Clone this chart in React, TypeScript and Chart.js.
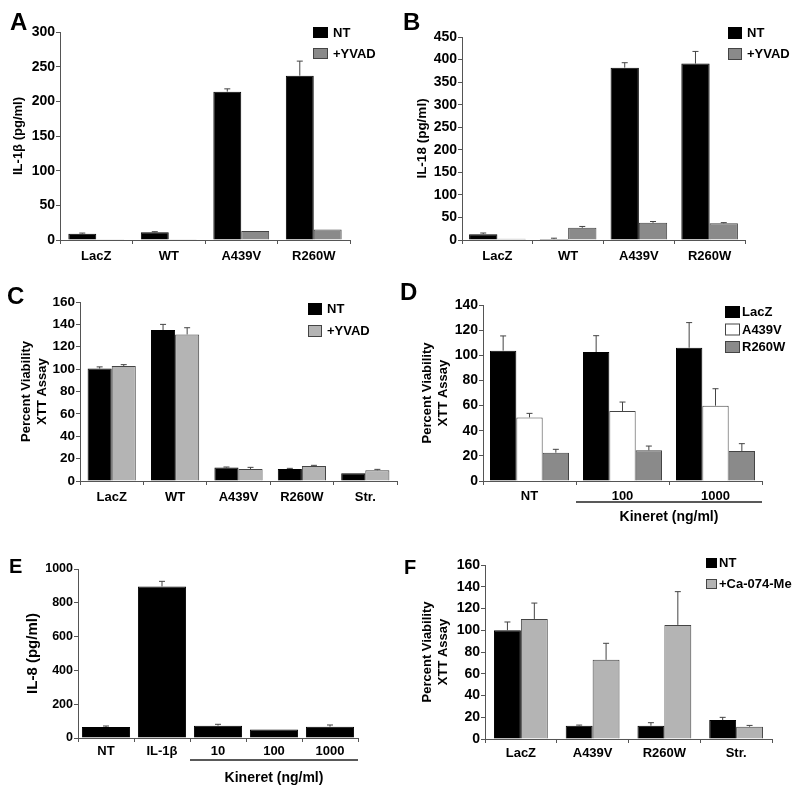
import React, { useEffect, useRef } from "react";
import { Chart, registerables } from "chart.js";

Chart.register(...registerables);

const FONT = "'Liberation Sans', Arial, Helvetica, sans-serif";
const BLACK = "#000000";
const GRAY_DARK = "#8a8a8a";
const GRAY_LIGHT = "#b4b4b4";
const WHITE = "#ffffff";
const EDGE = "#444444";
const AXIS = "#555555";

// ---------- Panel A : IL-1β ----------
const aCategories = ["LacZ", "WT", "A439V", "R260W"];
const aNT = [9, 11, 214, 237];
const aNTErr = [1, 1, 4, 21];
const aYVAD = [1, 0.5, 13, 15];
const aYVADErr = [0, 0, 0, 0];

// ---------- Panel B : IL-18 ----------
const bCategories = ["LacZ", "WT", "A439V", "R260W"];
const bNT = [13, 2, 382, 391];
const bNTErr = [2.5, 2, 11, 27];
const bYVAD = [3, 27, 38, 37];
const bYVADErr = [0, 3, 3, 1.5];

// ---------- Panel C : viability ± YVAD ----------
const cCategories = ["LacZ", "WT", "A439V", "R260W", "Str."];
const cNT = [100.5, 135, 12, 10.7, 6.9];
const cNTErr = [1.5, 5, 0.5, 0.6, 0];
const cYVAD = [102.7, 131, 10.7, 13.4, 9.6];
const cYVADErr = [1.3, 6, 1.5, 0.6, 0.8];

// ---------- Panel D : viability with Kineret ----------
const dCategories = ["NT", "100", "1000"];
const dLacZ = [103.7, 102.6, 106];
const dLacZErr = [11.7, 13, 20];
const dA439V = [50.6, 55.7, 59.9];
const dA439VErr = [3.2, 7.1, 13.5];
const dR260W = [22.5, 24.4, 23.9];
const dR260WErr = [2.7, 3.4, 5.8];

// ---------- Panel E : IL-8 ----------
const eCategories = ["NT", "IL-1β", "10", "100", "1000"];
const eValues = [65, 897, 73, 51, 67];
const eErr = [6, 30, 8, 0, 10];

// ---------- Panel F : viability ± Ca-074-Me ----------
const fCategories = ["LacZ", "A439V", "R260W", "Str."];
const fNT = [100, 12.2, 12.2, 17.4];
const fNTErr = [7.6, 0.6, 2.8, 2.5];
const fCa = [110.4, 72.8, 104.9, 11.3];
const fCaErr = [14.6, 15.2, 30.6, 1.2];

type Series = { label: string; data: number[]; err: number[]; color: string };
type LegendCfg = { x: number; y: number; w: number; h: number; pitch: number; textX: number; size: number };
type BracketCfg = { from: number; lineY: number; textY: number; label: string; size: number };
type PanelCfg = {
  letter: string;
  letterPos: [number, number, number];
  canvas: [number, number, number, number];
  area: [number, number, number, number];
  yLeft: number;
  yTitle: string | string[];
  yTitleSize: number;
  yTickSize: number;
  xTickSize: number;
  xPad: number;
  categories: string[];
  series: Series[];
  catPct: number;
  yMax: number;
  yStep: number;
  legend?: LegendCfg;
  bracket?: BracketCfg;
};

const panels: PanelCfg[] = [
  {
    letter: "A", letterPos: [10, 10, 24],
    canvas: [0, 0, 400, 268], area: [60, 32, 350, 240], yLeft: 11,
    yTitle: "IL-1β (pg/ml)", yTitleSize: 13, yTickSize: 14, xTickSize: 13, xPad: 5,
    categories: aCategories,
    series: [
      { label: "NT", data: aNT, err: aNTErr, color: BLACK },
      { label: "+YVAD", data: aYVAD, err: aYVADErr, color: GRAY_DARK },
    ],
    catPct: 0.77, yMax: 300, yStep: 50,
    legend: { x: 313, y: 27, w: 15, h: 11, pitch: 21, textX: 333, size: 13 },
  },
  {
    letter: "B", letterPos: [403, 10, 24],
    canvas: [400, 0, 400, 268], area: [462, 37, 745, 240], yLeft: 414,
    yTitle: "IL-18 (pg/ml)", yTitleSize: 13.5, yTickSize: 14, xTickSize: 13, xPad: 5,
    categories: bCategories,
    series: [
      { label: "NT", data: bNT, err: bNTErr, color: BLACK },
      { label: "+YVAD", data: bYVAD, err: bYVADErr, color: GRAY_DARK },
    ],
    catPct: 0.8, yMax: 450, yStep: 50,
    legend: { x: 728, y: 27, w: 14, h: 12, pitch: 21, textX: 747, size: 13 },
  },
  {
    letter: "C", letterPos: [7, 284, 24],
    canvas: [0, 270, 400, 258], area: [80, 302, 397, 481], yLeft: 19,
    yTitle: ["Percent Viability", "XTT Assay"], yTitleSize: 13, yTickSize: 13.5, xTickSize: 13, xPad: 5,
    categories: cCategories,
    series: [
      { label: "NT", data: cNT, err: cNTErr, color: BLACK },
      { label: "+YVAD", data: cYVAD, err: cYVADErr, color: GRAY_LIGHT },
    ],
    catPct: 0.76, yMax: 160, yStep: 20,
    legend: { x: 308, y: 303, w: 14, h: 12, pitch: 22, textX: 327, size: 13 },
  },
  {
    letter: "D", letterPos: [400, 280, 24],
    canvas: [400, 270, 400, 258], area: [483, 305, 762, 481], yLeft: 420,
    yTitle: ["Percent Viability", "XTT Assay"], yTitleSize: 13, yTickSize: 14, xTickSize: 13, xPad: 4,
    categories: dCategories,
    series: [
      { label: "LacZ", data: dLacZ, err: dLacZErr, color: BLACK },
      { label: "A439V", data: dA439V, err: dA439VErr, color: WHITE },
      { label: "R260W", data: dR260W, err: dR260WErr, color: GRAY_DARK },
    ],
    catPct: 0.85, yMax: 140, yStep: 20,
    legend: { x: 725, y: 306, w: 15, h: 12, pitch: 17.5, textX: 742, size: 13 },
    bracket: { from: 1, lineY: 502, textY: 517, label: "Kineret (ng/ml)", size: 14 },
  },
  {
    letter: "E", letterPos: [9, 556, 20],
    canvas: [0, 530, 400, 261], area: [78, 569, 358, 738], yLeft: 24,
    yTitle: "IL-8 (pg/ml)", yTitleSize: 15, yTickSize: 12.5, xTickSize: 13, xPad: 2,
    categories: eCategories,
    series: [{ label: "IL-8", data: eValues, err: eErr, color: BLACK }],
    catPct: 0.86, yMax: 1000, yStep: 200,
    bracket: { from: 2, lineY: 760, textY: 778, label: "Kineret (ng/ml)", size: 14 },
  },
  {
    letter: "F", letterPos: [404, 557, 20],
    canvas: [400, 530, 400, 261], area: [485, 565, 772, 739], yLeft: 420,
    yTitle: ["Percent Viability", "XTT Assay"], yTitleSize: 13, yTickSize: 14, xTickSize: 13, xPad: 3,
    categories: fCategories,
    series: [
      { label: "NT", data: fNT, err: fNTErr, color: BLACK },
      { label: "+Ca-074-Me", data: fCa, err: fCaErr, color: GRAY_LIGHT },
    ],
    catPct: 0.75, yMax: 160, yStep: 20,
    legend: { x: 706, y: 558, w: 11, h: 10, pitch: 21, textX: 719, size: 13 },
  },
];

function Panel({ cfg }: { cfg: PanelCfg }) {
  const ref = useRef<HTMLCanvasElement>(null);
  const [cx, cy, cw, ch] = cfg.canvas;

  useEffect(() => {
    const [l, t, r, b] = cfg.area;
    const H = 24;
    const W = l - cfg.yLeft;

    const errorBars = {
      id: "errorBars",
      afterDatasetsDraw(chart: any) {
        const ctx = chart.ctx;
        const ys = chart.scales.y;
        cfg.series.forEach((s, i) => {
          const meta = chart.getDatasetMeta(i);
          meta.data.forEach((bar: any, j: number) => {
            const e = s.err[j];
            if (!e) return;
            const top = ys.getPixelForValue(s.data[j] + e);
            ctx.save();
            ctx.strokeStyle = EDGE;
            ctx.lineWidth = 1;
            ctx.beginPath();
            ctx.moveTo(bar.x, bar.y);
            ctx.lineTo(bar.x, top);
            ctx.moveTo(bar.x - 3, top);
            ctx.lineTo(bar.x + 3, top);
            ctx.stroke();
            ctx.restore();
          });
        });
      },
    };

    const boxLegend = {
      id: "boxLegend",
      afterDraw(chart: any) {
        const lg = cfg.legend;
        if (!lg) return;
        const ctx = chart.ctx;
        ctx.save();
        cfg.series.forEach((s, i) => {
          const x = lg.x - cx;
          const y = lg.y - cy + i * lg.pitch;
          ctx.fillStyle = s.color;
          ctx.fillRect(x, y, lg.w, lg.h);
          ctx.strokeStyle = s.color === BLACK ? BLACK : EDGE;
          ctx.lineWidth = 1;
          ctx.strokeRect(x + 0.5, y + 0.5, lg.w - 1, lg.h - 1);
          ctx.fillStyle = "#000";
          ctx.font = `bold ${lg.size}px ${FONT}`;
          ctx.textBaseline = "middle";
          ctx.textAlign = "left";
          ctx.fillText(s.label, lg.textX - cx, y + lg.h / 2 + 0.5);
        });
        ctx.restore();
      },
    };

    const bracket = {
      id: "bracket",
      afterDraw(chart: any) {
        const br = cfg.bracket;
        if (!br) return;
        const xs = chart.scales.x;
        const ctx = chart.ctx;
        const x0 = (xs.getPixelForValue(br.from - 1) + xs.getPixelForValue(br.from)) / 2;
        const x1 = chart.chartArea.right;
        const y = br.lineY - cy;
        ctx.save();
        ctx.strokeStyle = "#222";
        ctx.lineWidth = 1.5;
        ctx.beginPath();
        ctx.moveTo(x0, y);
        ctx.lineTo(x1, y);
        ctx.stroke();
        ctx.fillStyle = "#000";
        ctx.font = `bold ${br.size}px ${FONT}`;
        ctx.textAlign = "center";
        ctx.textBaseline = "middle";
        ctx.fillText(br.label, (x0 + x1) / 2, br.textY - cy);
        ctx.restore();
      },
    };

    const chart = new Chart(ref.current as HTMLCanvasElement, {
      type: "bar",
      data: {
        labels: cfg.categories,
        datasets: cfg.series.map((s) => ({
          label: s.label,
          data: s.data,
          backgroundColor: s.color,
          borderColor: s.color === BLACK ? BLACK : EDGE,
          borderWidth: 1,
          categoryPercentage: cfg.catPct,
          barPercentage: 1,
        })),
      },
      options: {
        responsive: false,
        animation: false,
        devicePixelRatio: 1,
        layout: {
          padding: {
            left: cfg.yLeft - cx,
            top: t - cy,
            right: cx + cw - r,
            bottom: cy + ch - b - H,
          },
        },
        plugins: {
          legend: { display: false },
          tooltip: { enabled: false },
        },
        scales: {
          x: {
            type: "category",
            offset: true,
            grid: {
              offset: true,
              drawOnChartArea: false,
              drawTicks: true,
              tickLength: 4,
              color: AXIS,
            },
            border: { display: true, color: AXIS, width: 1 },
            ticks: {
              color: "#000",
              font: { family: FONT, size: cfg.xTickSize, weight: "bold" },
              padding: cfg.xPad,
              maxRotation: 0,
              autoSkip: false,
            },
            afterFit: (s: any) => {
              s.height = H;
            },
          },
          y: {
            min: 0,
            max: cfg.yMax,
            grid: {
              drawOnChartArea: false,
              drawTicks: true,
              tickLength: 4,
              color: AXIS,
            },
            border: { display: true, color: AXIS, width: 1 },
            ticks: {
              stepSize: cfg.yStep,
              color: "#000",
              padding: 1,
              font: { family: FONT, size: cfg.yTickSize, weight: "bold" },
              callback: (v: any) => String(v),
            },
            title: {
              display: true,
              text: cfg.yTitle,
              color: "#000",
              padding: 0,
              font: { family: FONT, size: cfg.yTitleSize, weight: "bold" },
            },
            afterFit: (s: any) => {
              s.width = W;
            },
          },
        },
      } as any,
      plugins: [errorBars, boxLegend, bracket],
    });
    return () => chart.destroy();
  }, [cfg]);

  return (
    <canvas
      ref={ref}
      width={cw}
      height={ch}
      style={{ position: "absolute", left: cx, top: cy, width: cw, height: ch }}
    />
  );
}

export default function App() {
  return (
    <div
      style={{
        position: "absolute",
        left: 0,
        top: 0,
        width: 800,
        height: 791,
        background: "#fff",
        overflow: "hidden",
      }}
    >
      {panels.map((p) => (
        <Panel key={p.letter} cfg={p} />
      ))}
      {panels.map((p) => (
        <div
          key={"L" + p.letter}
          style={{
            position: "absolute",
            left: p.letterPos[0],
            top: p.letterPos[1],
            fontFamily: FONT,
            fontWeight: "bold",
            fontSize: p.letterPos[2],
            lineHeight: 1,
            color: "#000",
          }}
        >
          {p.letter}
        </div>
      ))}
    </div>
  );
}
